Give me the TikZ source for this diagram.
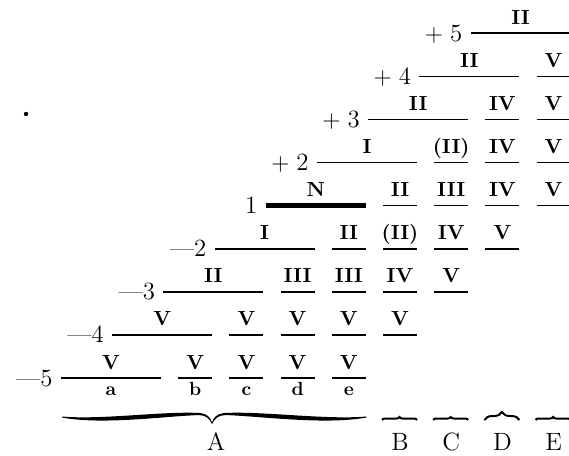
\documentclass[tikz,border=0pt]{standalone}
\usepackage{fontspec}
\usepackage{tikz}
\usetikzlibrary{decorations.pathreplacing}

\begin{document}
\begin{tikzpicture}[
    x=0.5pt, y=-0.5pt,
    seg/.style={line width=0.8pt},
    heavy/.style={line width=2.4pt},
    num/.style={font=\fontsize{10.2}{11}\selectfont\bfseries, inner sep=0pt, anchor=base},
    rowlab/.style={font=\fontsize{12.4}{13}\selectfont, inner sep=0pt, anchor=base east},
    sub/.style={font=\fontsize{9.5}{10}\selectfont\bfseries, inner sep=0pt, anchor=base},
    grp/.style={font=\fontsize{12.5}{13}\selectfont, inner sep=0pt, anchor=base},
    bracearm/.style={fill=black},
    smallbrace/.style={decorate, decoration={brace, amplitude=1.5pt}, line width=1pt},
    tallbrace/.style={decorate, decoration={brace, amplitude=4pt}, line width=1pt}
]
\useasboundingbox (0,0) rectangle (569,456);

% long line of each row, ending at the end of column \r
\foreach \r/\t/\lab in {0/V/{---5}, 1/V/{---4}, 2/II/{---3}, 3/I/{---2}, 4/N/1,
    5/I/{$+$\;2}, 6/II/{$+$\;3}, 7/II/{$+$\;4}, 8/II/{$+$\;5}} {
  \pgfmathsetmacro\xe{161+51.2*\r}
  \pgfmathsetmacro\yy{378-43.1*\r}
  \coordinate (a\r) at (\xe-100,\yy);
  \coordinate (b\r) at (\xe,\yy);
  \draw[seg] (a\r) -- (b\r);
  \node[num] (m\r) at (\xe-50,\yy-9) {\t};
  \node[rowlab] (r\r) at (\xe-108,\yy+8) {\lab};
}
\draw[heavy] (a4) -- (b4);

% short lines: row / column / numeral
\foreach \r/\c/\t in {0/1/V, 0/2/V, 0/3/V, 0/4/V,
    1/2/V, 1/3/V, 1/4/V, 1/5/V,
    2/3/III, 2/4/III, 2/5/IV, 2/6/V,
    3/4/II, 3/5/(II), 3/6/IV, 3/7/V,
    4/5/II, 4/6/III, 4/7/IV, 4/8/V,
    5/6/(II), 5/7/IV, 5/8/V,
    6/7/IV, 6/8/V,
    7/8/V} {
  \pgfmathsetmacro\xe{161+51.2*\c}
  \pgfmathsetmacro\yy{378-43.1*\r}
  \coordinate (p\r\c) at (\xe-34,\yy);
  \coordinate (q\r\c) at (\xe,\yy);
  \draw[seg] (p\r\c) -- (q\r\c);
  \node[num] (s\r\c) at (\xe-17,\yy-9) {\t};
}

% column letters
\node[sub] (la) at (111,395) {a};
\foreach \c/\t in {1/b, 2/c, 3/d, 4/e}
  \node[sub] (l\t) at ({161+51.2*\c-17},395) {\t};

% brace under a--e
\begin{scope}[shift={(212,423)}]
  \fill[bracearm] (-150,-6.5) .. controls (-110,-3) and (-50,-12) .. (-12,-10)
    .. controls (-5,-9.5) and (-1,-5) .. (0,-0.5) -- (0,1)
    .. controls (-3,-5) and (-6,-7.5) .. (-13,-8)
    .. controls (-50,-6.5) and (-110,2) .. (-150,-5.5) -- cycle;
\end{scope}
\begin{scope}[shift={(212,423)}, xscale=-1.03]
  \fill[bracearm] (-150,-6.5) .. controls (-110,-3) and (-50,-12) .. (-12,-10)
    .. controls (-5,-9.5) and (-1,-5) .. (0,-0.5) -- (0,1)
    .. controls (-3,-5) and (-6,-7.5) .. (-13,-8)
    .. controls (-50,-6.5) and (-110,2) .. (-150,-5.5) -- cycle;
\end{scope}
\node[grp] (gA) at (216,450) {A};

\foreach \c/\t/\b in {5/B/smallbrace, 6/C/smallbrace, 7/D/tallbrace, 8/E/smallbrace} {
  \pgfmathsetmacro\xe{161+51.2*\c}
  \coordinate (u\t) at (\xe-35,420);
  \coordinate (v\t) at (\xe,420);
  \draw[\b] (u\t) -- (v\t);
  \node[grp] (g\t) at (\xe-17,450) {\t};
}

\fill (26,114) circle (1.1pt);
\end{tikzpicture}
\end{document}
